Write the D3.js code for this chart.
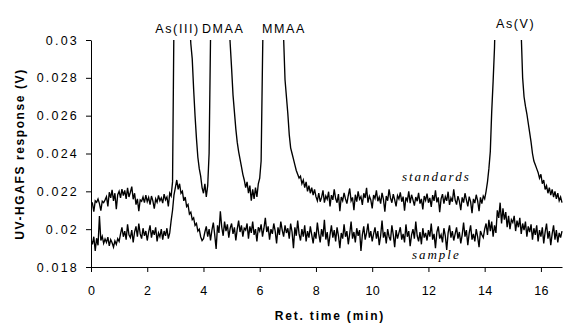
<!DOCTYPE html>
<html>
<head>
<meta charset="utf-8">
<script src="https://cdn.jsdelivr.net/npm/d3@7"></script>
<style>
  body { margin: 0; background: #fff; }
  svg { display: block; font-family: "Liberation Sans", Arial, sans-serif; }
  .tick text { fill: #000; }
</style>
</head>
<body>
<svg id="drawing_region"></svg>
<script>
// detector sampled every 0.05 min, from 0 to 16.75 min
const sampleInterval = 0.05;

// UV-HGAFS response (V), one row per minute
const standards = [
  0.02145, 0.02138, 0.02092, 0.02150, 0.02142, 0.02160, 0.02135, 0.02098, 0.02148, 0.02140, 0.02155, 0.02172, 0.02120, 0.02195, 0.02165, 0.02208, 0.02150, 0.02190, 0.02105, 0.02182,
  0.02200, 0.02165, 0.02212, 0.02178, 0.02205, 0.02160, 0.02218, 0.02170, 0.02195, 0.02225, 0.02158, 0.02190, 0.02130, 0.02160, 0.02095, 0.02155, 0.02148, 0.02170, 0.02140, 0.02180,
  0.02145, 0.02168, 0.02130, 0.02175, 0.02150, 0.02108, 0.02160, 0.02142, 0.02178, 0.02150, 0.02165, 0.02138, 0.02185, 0.02155, 0.02170, 0.02120, 0.02190, 0.02175, 0.02250, 0.03100,
  0.038, 0.045, 0.050, 0.052, 0.051, 0.048, 0.044, 0.040, 0.036, 0.033, 0.0312, 0.0298, 0.0290, 0.0274, 0.0260, 0.0248, 0.0238, 0.0232, 0.0228, 0.0222,
  0.0219, 0.0224, 0.0217, 0.0223, 0.0240, 0.0300, 0.036, 0.042, 0.047, 0.050, 0.052, 0.051, 0.049, 0.046, 0.042, 0.038, 0.035, 0.033, 0.0312, 0.0298,
  0.0285, 0.0271, 0.0262, 0.0253, 0.0246, 0.0241, 0.0237, 0.0233, 0.0229, 0.0226, 0.0222, 0.0225, 0.0219, 0.0223, 0.0215, 0.0221, 0.0216, 0.0222, 0.0217, 0.0224,
  0.0227, 0.0236, 0.0290, 0.034, 0.040, 0.046, 0.050, 0.053, 0.054, 0.053, 0.050, 0.047, 0.043, 0.039, 0.036, 0.033, 0.0315, 0.0301, 0.0279, 0.0270,
  0.0261, 0.0250, 0.0243, 0.0240, 0.0237, 0.0234, 0.0231, 0.0229, 0.0227, 0.0228, 0.0224, 0.0226, 0.0222, 0.0225, 0.0220, 0.0223, 0.0219, 0.0222, 0.0218, 0.0221,
  0.02172, 0.02150, 0.02190, 0.02145, 0.02168, 0.02205, 0.02140, 0.02175, 0.02158, 0.02198, 0.02120, 0.02180, 0.02155, 0.02210, 0.02162, 0.02140, 0.02185, 0.02095, 0.02170, 0.02150,
  0.02192, 0.02160, 0.02135, 0.02178, 0.02215, 0.02150, 0.02168, 0.02100, 0.02182, 0.02145, 0.02200, 0.02158, 0.02172, 0.02128, 0.02190, 0.02165, 0.02218, 0.02140, 0.02175, 0.02155,
  0.02110, 0.02180, 0.02162, 0.02205, 0.02148, 0.02170, 0.02135, 0.02192, 0.02158, 0.02092, 0.02175, 0.02150, 0.02210, 0.02165, 0.02140, 0.02185, 0.02155, 0.02120, 0.02178, 0.02160,
  0.02195, 0.02145, 0.02172, 0.02098, 0.02168, 0.02150, 0.02200, 0.02138, 0.02182, 0.02155, 0.02125, 0.02170, 0.02148, 0.02192, 0.02135, 0.02160, 0.02105, 0.02175, 0.02152, 0.02188,
  0.02140, 0.02165, 0.02118, 0.02180, 0.02150, 0.02205, 0.02142, 0.02168, 0.02090, 0.02160, 0.02185, 0.02135, 0.02172, 0.02150, 0.02198, 0.02128, 0.02165, 0.02145, 0.02210, 0.02155,
  0.02130, 0.02175, 0.02148, 0.02100, 0.02168, 0.02140, 0.02190, 0.02155, 0.02120, 0.02172, 0.02145, 0.02085, 0.02160, 0.02138, 0.02182, 0.02150, 0.02095, 0.02168, 0.02135, 0.02175,
  0.02160, 0.0220, 0.0225, 0.0232, 0.0241, 0.0262, 0.0278, 0.0296, 0.033, 0.037, 0.041, 0.045, 0.048, 0.050, 0.052, 0.053, 0.053, 0.052, 0.050, 0.047,
  0.044, 0.041, 0.038, 0.035, 0.033, 0.0315, 0.0303, 0.0280, 0.0270, 0.0265, 0.0261, 0.0256, 0.0251, 0.0246, 0.0240, 0.0236, 0.0234, 0.0232, 0.0230, 0.0227,
  0.0229, 0.0224, 0.0226, 0.0221, 0.0223, 0.0219, 0.0222, 0.0218, 0.0221, 0.0217, 0.0220, 0.0216, 0.0219, 0.0215, 0.0217, 0.0214
];

const sample = [
  0.01945, 0.01920, 0.01960, 0.01885, 0.01952, 0.01915, 0.02070, 0.01940, 0.01962, 0.01925, 0.01948, 0.01930, 0.01958, 0.01912, 0.01945, 0.01928, 0.01905, 0.01938, 0.01920, 0.01950,
  0.01935, 0.01975, 0.02010, 0.01960, 0.01990, 0.01945, 0.02025, 0.01970, 0.01955, 0.01995, 0.01930, 0.01985, 0.02015, 0.01960, 0.02030, 0.01975, 0.01950, 0.02005, 0.01965, 0.01990,
  0.01940, 0.01985, 0.02020, 0.01955, 0.01995, 0.01970, 0.02010, 0.01935, 0.01980, 0.01960, 0.02000, 0.01945, 0.01990, 0.01965, 0.02005, 0.01950, 0.01980, 0.02045, 0.02100, 0.02180,
  0.0222, 0.0226, 0.0221, 0.0224, 0.0219, 0.0220, 0.0215, 0.0217, 0.0212, 0.0213, 0.0208, 0.0209, 0.0205, 0.0206, 0.0202, 0.0203, 0.0199, 0.0200, 0.0196, 0.0194,
  0.01950, 0.01985, 0.02015, 0.01960, 0.02000, 0.01940, 0.01995, 0.02035, 0.01970, 0.01895, 0.02020, 0.01980, 0.02095, 0.02010, 0.01965, 0.02040, 0.01990, 0.02025, 0.01955, 0.02005,
  0.02030, 0.01975, 0.02010, 0.01940, 0.02000, 0.02045, 0.01985, 0.02020, 0.01960, 0.02005, 0.01995, 0.02030, 0.01950, 0.02015, 0.01980, 0.02040, 0.01970, 0.02000, 0.01935, 0.02010,
  0.01990, 0.02025, 0.01960, 0.02005, 0.02060, 0.01985, 0.02015, 0.01945, 0.02000, 0.01975, 0.02030, 0.01990, 0.01925, 0.02010, 0.01970, 0.02040, 0.01995, 0.01960, 0.02020, 0.01980,
  0.02005, 0.01950, 0.02030, 0.01985, 0.01900, 0.02010, 0.01965, 0.02045, 0.01975, 0.01940, 0.02000, 0.01960, 0.02020, 0.01935, 0.01990, 0.01955, 0.02015, 0.01970, 0.01925, 0.01985,
  0.01950, 0.02035, 0.01975, 0.01930, 0.02000, 0.01960, 0.02050, 0.01945, 0.01985, 0.01910, 0.01970, 0.02020, 0.01955, 0.01995, 0.01935, 0.02010, 0.01965, 0.01900, 0.01980, 0.01950,
  0.02025, 0.01960, 0.01990, 0.01920, 0.01975, 0.02040, 0.01950, 0.01985, 0.01930, 0.02005, 0.01965, 0.01995, 0.01885, 0.01970, 0.02015, 0.01945, 0.01980, 0.02030, 0.01955, 0.01990,
  0.01935, 0.01975, 0.02010, 0.01950, 0.01990, 0.01915, 0.01965, 0.02045, 0.01955, 0.01985, 0.01925, 0.02000, 0.01960, 0.01940, 0.02020, 0.01970, 0.01905, 0.01995, 0.01950, 0.01980,
  0.02010, 0.01945, 0.01975, 0.01930, 0.02025, 0.01960, 0.01990, 0.01910, 0.01970, 0.02000, 0.01950, 0.02040, 0.01965, 0.01935, 0.01985, 0.01920, 0.02005, 0.01955, 0.01980, 0.01940,
  0.01995, 0.01960, 0.02030, 0.01945, 0.01975, 0.01900, 0.01985, 0.02015, 0.01950, 0.01970, 0.01930, 0.02005, 0.01965, 0.01890, 0.01980, 0.02020, 0.01955, 0.01990, 0.01940, 0.01975,
  0.02010, 0.01950, 0.01985, 0.01925, 0.01970, 0.02035, 0.01960, 0.01995, 0.01915, 0.01980, 0.02020, 0.01945, 0.01975, 0.01935, 0.02000, 0.01960, 0.01905, 0.01990, 0.01970, 0.01955,
  0.0200, 0.0203, 0.0197, 0.0205, 0.0199, 0.0204, 0.0196, 0.0202, 0.0198, 0.0210, 0.0206, 0.0214, 0.0203, 0.0211, 0.0205, 0.0209, 0.0201, 0.0207, 0.0200, 0.0205,
  0.02035, 0.02070, 0.01990, 0.02045, 0.02010, 0.02060, 0.01975, 0.02030, 0.01995, 0.02040, 0.01960, 0.02015, 0.01985, 0.02025, 0.01945, 0.02005, 0.01970, 0.02020, 0.01935, 0.01995,
  0.01960, 0.02010, 0.01925, 0.01985, 0.02030, 0.01950, 0.01990, 0.01915, 0.01975, 0.02020, 0.01945, 0.01995, 0.01930, 0.01980, 0.01955, 0.01990
];

const peakNames = ['As(III)', 'DMAA', 'MMAA', 'As(V)'];
const peakLabelTimes = [3.08, 4.7, 6.86, 15.1];

const seriesNames = ['standards', 'sample'];

const xTicks = [0, 2, 4, 6, 8, 10, 12, 14, 16];
const yTicks = [0.018, 0.020, 0.022, 0.024, 0.026, 0.028, 0.030];
const yTickLabels = ['0.018', '0.02', '0.022', '0.024', '0.026', '0.028', '0.03'];

const config = {
    width: 563,
    height: 325,
    margin: {top: 40, right: 1, bottom: 58, left: 91}
};

const svg = d3.select('#drawing_region')
    .attr('width', config.width)
    .attr('height', config.height);

const inner_width = config.width - config.margin.left - config.margin.right;
const inner_height = config.height - config.margin.top - config.margin.bottom;

const chart = svg.append('g')
    .attr('transform', `translate(${config.margin.left}, ${config.margin.top})`);

const xscale = d3.scaleLinear().domain([0, 16.75]).range([0, inner_width]);
const yscale = d3.scaleLinear().domain([0.018, 0.030]).range([inner_height, 0]);

chart.append('clipPath').attr('id', 'plot_clip')
    .append('rect')
    .attr('x', 0).attr('y', 0)
    .attr('width', inner_width + 1).attr('height', inner_height + 20);

const line = d3.line()
    .x((d, i) => xscale(i * sampleInterval))
    .y(d => yscale(d));

chart.selectAll('path.trace')
    .data([standards, sample])
    .enter()
    .append('path')
    .attr('class', 'trace')
    .attr('clip-path', 'url(#plot_clip)')
    .attr('d', line)
    .attr('fill', 'none')
    .attr('stroke', '#000')
    .attr('stroke-width', 1.35)
    .attr('stroke-linejoin', 'miter');

// axes
const xaxis = d3.axisBottom(xscale)
    .tickValues(xTicks)
    .tickSize(5)
    .tickPadding(14)
    .tickSizeOuter(0);

const yaxis = d3.axisLeft(yscale)
    .tickValues(yTicks)
    .tickFormat((d, i) => yTickLabels[i])
    .tickSize(5)
    .tickPadding(7)
    .tickSizeOuter(0);

const xaxis_group = chart.append('g')
    .attr('transform', `translate(0, ${inner_height})`)
    .call(xaxis);
xaxis_group.selectAll('text').attr('font-size', 12.5).attr('letter-spacing', 0.3);

const yaxis_group = chart.append('g').call(yaxis);
yaxis_group.selectAll('text').attr('font-size', 12.5).attr('letter-spacing', 2.2);

chart.selectAll('.domain, .tick line').attr('stroke', '#000').attr('stroke-width', 1);

// axis titles
svg.append('text')
    .attr('x', 330)
    .attr('y', 320)
    .attr('text-anchor', 'middle')
    .attr('font-size', 12)
    .attr('font-weight', 'bold')
    .attr('letter-spacing', 1.8)
    .text('Ret. time (min)');

svg.append('text')
    .attr('transform', 'translate(24, 154) rotate(-90)')
    .attr('text-anchor', 'middle')
    .attr('font-size', 12)
    .attr('font-weight', 'bold')
    .attr('letter-spacing', 1.6)
    .text('UV-HGAFS response (V)');

// peak names
chart.selectAll('text.peak')
    .data(peakNames)
    .enter()
    .append('text')
    .attr('class', 'peak')
    .attr('x', (d, i) => xscale(peakLabelTimes[i]))
    .attr('y', (d, i) => i === 3 ? -12 : -7.5)
    .attr('text-anchor', 'middle')
    .attr('font-size', 12.5)
    .attr('letter-spacing', 1.6)
    .text(d => d);

// series names
const seriesLabelY = [0.02255, 0.01842];
chart.selectAll('text.series')
    .data(seriesNames)
    .enter()
    .append('text')
    .attr('class', 'series')
    .attr('x', xscale(12.28))
    .attr('y', (d, i) => yscale(seriesLabelY[i]))
    .attr('text-anchor', 'middle')
    .attr('font-family', '"Liberation Serif", "Times New Roman", serif')
    .attr('font-style', 'italic')
    .attr('font-size', 13)
    .attr('letter-spacing', 2)
    .text(d => d);
</script>
</body>
</html>
